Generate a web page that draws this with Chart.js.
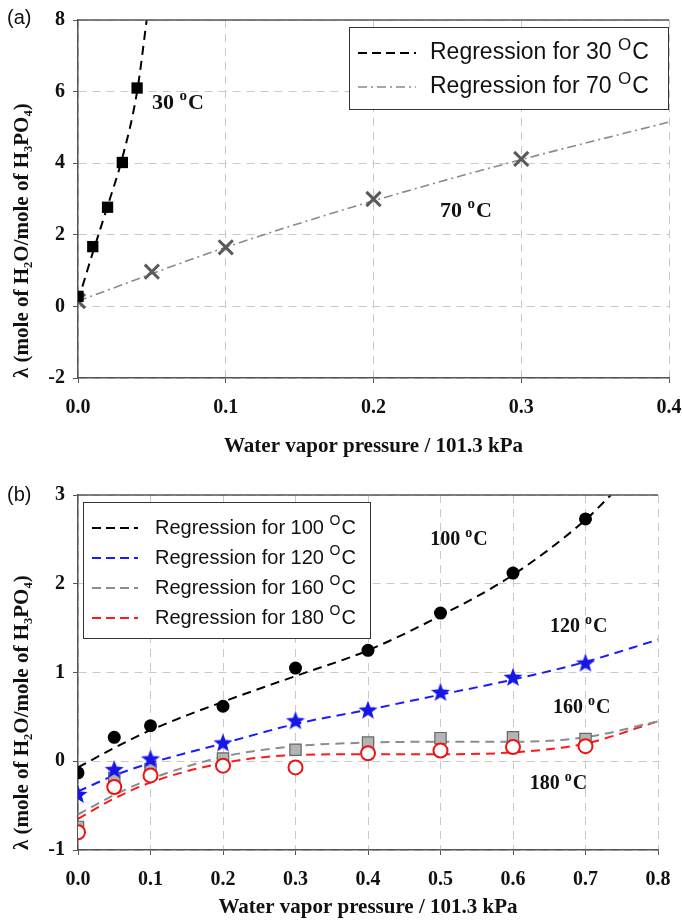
<!DOCTYPE html>
<html>
<head>
<meta charset="utf-8">
<script src="https://cdn.jsdelivr.net/npm/chart.js@4.4.1/dist/chart.umd.min.js"></script>
<style>
  body { margin: 0; background: #fff; width: 682px; height: 922px; overflow: hidden; }
  canvas { display: block; }
</style>
</head>
<body>
<canvas id="chartA" width="682" height="458"></canvas>
<canvas id="chartB" width="682" height="464"></canvas>
<script>
// panel (a): measured points
var xA30 = [0, 0.01, 0.02, 0.03, 0.04];
var yA30 = [0.28, 1.67, 2.77, 4.02, 6.1];
var xA70 = [0, 0.05, 0.1, 0.2, 0.3];
var yA70 = [0.15, 0.97, 1.65, 3.0, 4.12];
// panel (a): regression curves
var fitXA30 = [0, 0.01, 0.02, 0.03, 0.04, 0.0465];
var fitYA30 = [0.15, 1.5, 2.8, 4.15, 6.0, 8.0];
var fitXA70 = [0, 0.1, 0.2, 0.3, 0.4];
var fitYA70 = [0.15, 1.65, 2.95, 4.1, 5.15];

// panel (b): measured points
var xB = [0, 0.05, 0.1, 0.2, 0.3, 0.4, 0.5, 0.6, 0.7];
var y100 = [-0.13, 0.27, 0.4, 0.62, 1.05, 1.25, 1.67, 2.12, 2.73];
var y120 = [-0.38, -0.1, 0.02, 0.2, 0.45, 0.57, 0.77, 0.94, 1.1];
var y160 = [-0.74, -0.19, -0.09, 0.03, 0.13, 0.21, 0.26, 0.27, 0.25];
var y180 = [-0.8, -0.29, -0.16, -0.05, -0.07, 0.09, 0.12, 0.16, 0.17];
// panel (b): regression curves
var fitX100 = [0, 0.05, 0.1, 0.2, 0.3, 0.4, 0.5, 0.6, 0.7, 0.735];
var fitY100 = [-0.07, 0.15, 0.35, 0.67, 0.96, 1.25, 1.64, 2.1, 2.72, 3.0];
var fitXB = [0, 0.05, 0.1, 0.2, 0.3, 0.4, 0.5, 0.6, 0.7, 0.8];
var fitY120 = [-0.34, -0.16, -0.02, 0.2, 0.42, 0.58, 0.75, 0.92, 1.12, 1.37];
var fitY160 = [-0.6, -0.38, -0.2, 0.05, 0.17, 0.21, 0.22, 0.22, 0.27, 0.45];
var fitY180 = [-0.65, -0.42, -0.24, -0.02, 0.07, 0.08, 0.08, 0.1, 0.2, 0.45];

var yTitle = 'λ (mole of H₂O/mole of H₃PO₄)';
var xTitle = 'Water vapor pressure / 101.3 kPa';

// ----------------------------------------------------------------

var SERIF = '"Liberation Serif", "Times New Roman", serif';
var SANS = '"Liberation Sans", Arial, sans-serif';

function pts(xs, ys) {
  return xs.map(function (x, i) { return { x: x, y: ys[i] }; });
}

function makeStar(color, r) {
  var c = document.createElement('canvas');
  var s = Math.ceil(r * 2 + 2);
  c.width = s; c.height = s;
  var g = c.getContext('2d');
  g.beginPath();
  for (var i = 0; i < 10; i++) {
    var rad = i % 2 === 0 ? r : r * 0.42;
    var a = -Math.PI / 2 + i * Math.PI / 5;
    var px = s / 2 + rad * Math.cos(a), py = s / 2 + rad * Math.sin(a);
    if (i === 0) g.moveTo(px, py); else g.lineTo(px, py);
  }
  g.closePath();
  g.fillStyle = color;
  g.fill();
  return c;
}

// "30 °C" style text with a small raised o
function drawTemp(ctx, x, y, pre, sup, post, size, family, weight, supScale, rise) {
  ctx.save();
  ctx.textAlign = 'left';
  ctx.textBaseline = 'middle';
  ctx.fillStyle = '#111';
  ctx.font = weight + ' ' + size + 'px ' + family;
  ctx.fillText(pre, x, y);
  x += ctx.measureText(pre).width;
  ctx.font = weight + ' ' + Math.round(size * supScale) + 'px ' + family;
  ctx.fillText(sup, x, y - rise);
  x += ctx.measureText(sup).width + 1;
  ctx.font = weight + ' ' + size + 'px ' + family;
  ctx.fillText(post, x, y);
  ctx.restore();
}

var panelExtras = {
  id: 'panelExtras',
  afterDraw: function (chart, args, opts) {
    var ctx = chart.ctx;
    var area = chart.chartArea;
    var sx = chart.scales.x, sy = chart.scales.y;

    // solid frame line on top
    ctx.save();
    ctx.strokeStyle = '#555';
    ctx.lineWidth = 1.5;
    ctx.beginPath();
    ctx.moveTo(area.left, area.top);
    ctx.lineTo(area.right, area.top);
    ctx.stroke();
    ctx.restore();

    // panel tag
    ctx.save();
    ctx.font = '20px ' + SANS;
    ctx.fillStyle = '#111';
    ctx.textBaseline = 'middle';
    ctx.fillText(opts.tag, 7, opts.tagY);
    ctx.restore();

    // legend box
    var lg = opts.legend;
    ctx.save();
    ctx.fillStyle = '#fff';
    ctx.fillRect(lg.box[0], lg.box[1], lg.box[2] - lg.box[0], lg.box[3] - lg.box[1]);
    ctx.strokeStyle = '#333';
    ctx.lineWidth = 1;
    ctx.strokeRect(lg.box[0] + 0.5, lg.box[1] + 0.5, lg.box[2] - lg.box[0], lg.box[3] - lg.box[1]);
    lg.items.forEach(function (it, i) {
      var yy = lg.y0 + i * lg.dy;
      ctx.save();
      ctx.strokeStyle = it.color;
      ctx.lineWidth = it.width;
      ctx.setLineDash(it.dash);
      ctx.beginPath();
      ctx.moveTo(lg.lineX[0], yy);
      ctx.lineTo(lg.lineX[1], yy);
      ctx.stroke();
      ctx.restore();
      drawTemp(ctx, lg.textX, yy, it.text, 'O', 'C', lg.size, SANS, 'normal', 0.72, lg.size * 0.33);
    });
    ctx.restore();

    // curve labels
    opts.notes.forEach(function (n) {
      drawTemp(ctx, sx.getPixelForValue(n.x), sy.getPixelForValue(n.y), n.t + ' ', 'o', 'C',
        opts.noteSize, SERIF, 'bold', 0.68, opts.noteSize * 0.32);
    });
  }
};

function makeScales(xMax, yMin, yMax, yStep, xHeight, titlePad) {
  var gridOpts = {
    color: '#c9c9c9',
    lineWidth: 1,
    tickLength: 5,
    tickColor: '#555',
    tickBorderDash: []
  };
  var borderOpts = { display: true, color: '#555', width: 1.5, dash: [8, 6] };
  return {
    x: {
      type: 'linear',
      min: 0,
      max: xMax,
      afterFit: function (s) {
        s.height = xHeight;
        s.paddingLeft = 0;
        s.paddingRight = 0;
      },
      ticks: {
        stepSize: 0.1,
        padding: 13,
        color: '#111',
        font: { family: SERIF, size: 20, weight: 'bold' },
        callback: function (v) { return v.toFixed(1); }
      },
      grid: gridOpts,
      border: borderOpts,
      title: {
        display: true,
        text: xTitle,
        color: '#111',
        font: { family: SERIF, size: 21, weight: 'bold', lineHeight: 1 },
        padding: { top: 0, bottom: titlePad }
      }
    },
    y: {
      type: 'linear',
      min: yMin,
      max: yMax,
      afterFit: function (s) { s.width = 78; },
      ticks: {
        stepSize: yStep,
        padding: 8,
        color: '#111',
        font: { family: SERIF, size: 20, weight: 'bold' }
      },
      grid: gridOpts,
      border: borderOpts,
      title: {
        display: true,
        text: yTitle,
        align: 'start',
        color: '#111',
        font: { family: SERIF, size: 21, weight: 'bold', lineHeight: 1 },
        padding: { top: 12, bottom: 0 }
      }
    }
  };
}

var lineBase = {
  showLine: true,
  pointRadius: 0,
  fill: false,
  cubicInterpolationMode: 'monotone'
};

function fitLine(xs, ys, color, width, dash) {
  return Object.assign({}, lineBase, {
    data: pts(xs, ys),
    borderColor: color,
    borderWidth: width,
    borderDash: dash
  });
}

// ----------------------------------------------------------------

var configA = {
  type: 'scatter',
  data: {
    datasets: [
      { label: '30 °C', data: pts(xA30, yA30), pointStyle: 'rect', pointRadius: 8,
        backgroundColor: '#000', borderColor: '#000', borderWidth: 0 },
      { label: '70 °C', data: pts(xA70, yA70), pointStyle: 'crossRot', pointRadius: 10,
        borderColor: '#5a5a5a', borderWidth: 3 },
      fitLine(fitXA30, fitYA30, '#000', 2, [9, 6]),
      fitLine(fitXA70, fitYA70, '#8a8a8a', 1.6, [9, 4, 2, 4])
    ]
  },
  options: {
    responsive: false,
    animation: false,
    events: [],
    layout: { padding: { top: 20, right: 12, left: 0, bottom: 0 } },
    scales: makeScales(0.4, -2, 8, 2, 80, 1),
    plugins: {
      legend: { display: false },
      tooltip: { enabled: false },
      panelExtras: {
        tag: '(a)',
        tagY: 18,
        noteSize: 22,
        legend: {
          box: [349, 27, 668, 109],
          lineX: [358, 416],
          textX: 430,
          y0: 53,
          dy: 34,
          size: 23,
          items: [
            { text: 'Regression for 30 ', color: '#000', width: 2, dash: [9, 5] },
            { text: 'Regression for 70 ', color: '#8a8a8a', width: 1.6, dash: [9, 4, 2, 4] }
          ]
        },
        notes: [
          { t: '30', x: 0.05, y: 5.67 },
          { t: '70', x: 0.245, y: 2.67 }
        ]
      }
    }
  },
  plugins: [panelExtras]
};

var configB = {
  type: 'scatter',
  data: {
    datasets: [
      { label: '100 °C', data: pts(xB, y100), pointStyle: 'circle', pointRadius: 6.5,
        backgroundColor: '#000', borderColor: '#000', borderWidth: 0 },
      { label: '120 °C', data: pts(xB, y120), pointStyle: makeStar('#1616e8', 10), pointRadius: 9 },
      { label: '180 °C', data: pts(xB, y180), pointStyle: 'circle', pointRadius: 7,
        backgroundColor: '#fff', borderColor: '#ee1111', borderWidth: 2 },
      { label: '160 °C', data: pts(xB, y160), pointStyle: 'rect', pointRadius: 8,
        backgroundColor: '#b4b4b4', borderColor: '#666', borderWidth: 1.2 },
      fitLine(fitX100, fitY100, '#000', 2, [9, 6]),
      fitLine(fitXB, fitY120, '#1a1aff', 2, [9, 6]),
      fitLine(fitXB, fitY160, '#8c8c8c', 2, [9, 6]),
      fitLine(fitXB, fitY180, '#ff1a1a', 2, [9, 6])
    ]
  },
  options: {
    responsive: false,
    animation: false,
    events: [],
    layout: { padding: { top: 37, right: 24, left: 0, bottom: 0 } },
    scales: makeScales(0.8, -1, 3, 1, 72, 3.5),
    plugins: {
      legend: { display: false },
      tooltip: { enabled: false },
      panelExtras: {
        tag: '(b)',
        tagY: 37,
        noteSize: 20,
        legend: {
          box: [83, 44, 370, 180],
          lineX: [92, 138],
          textX: 155,
          y0: 70,
          dy: 30,
          size: 20,
          items: [
            { text: 'Regression for 100 ', color: '#000', width: 2, dash: [9, 5] },
            { text: 'Regression for 120 ', color: '#1a1aff', width: 2, dash: [9, 5] },
            { text: 'Regression for 160 ', color: '#8c8c8c', width: 2, dash: [9, 5] },
            { text: 'Regression for 180 ', color: '#ff1a1a', width: 2, dash: [9, 5] }
          ]
        },
        notes: [
          { t: '100', x: 0.486, y: 2.5 },
          { t: '120', x: 0.651, y: 1.51 },
          { t: '160', x: 0.655, y: 0.6 },
          { t: '180', x: 0.623, y: -0.25 }
        ]
      }
    }
  },
  plugins: [panelExtras]
};

var chartA = new Chart(document.getElementById('chartA').getContext('2d'), configA);
var chartB = new Chart(document.getElementById('chartB').getContext('2d'), configB);
</script>
</body>
</html>
